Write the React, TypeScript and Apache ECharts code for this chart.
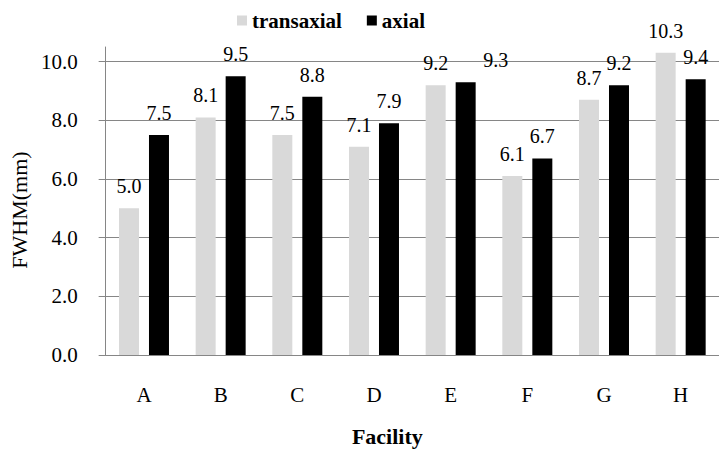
import React, { useEffect, useRef } from "react";
import * as echarts from "echarts";

const categories = ["A", "B", "C", "D", "E", "F", "G", "H"];
const transaxial = [5.0, 8.1, 7.5, 7.1, 9.2, 6.1, 8.7, 10.3];
const axial = [7.5, 9.5, 8.8, 7.9, 9.3, 6.7, 9.2, 9.4];
const yTicks = [0, 2, 4, 6, 8, 10];

const FONT = "Liberation Serif";

export default function App() {
  const ref = useRef<HTMLDivElement>(null);
  useEffect(() => {
    if (!ref.current) return;
    const chart = echarts.init(ref.current, null, { renderer: "svg" });
    const labelStyle = {
      show: true,
      position: "top" as const,
      distance: 12,
      fontFamily: FONT,
      fontSize: 20,
      color: "#000",
      formatter: (p: any) => Number(p.value).toFixed(1),
    };
    chart.setOption({
      animation: false,
      textStyle: { fontFamily: FONT, color: "#000" },
      legend: {
        left: 232,
        top: 5,
        itemWidth: 10,
        itemHeight: 10,
        itemGap: 25,
        icon: "rect",
        textStyle: { fontFamily: FONT, fontSize: 21, fontWeight: "bold", color: "#000" },
        data: ["transaxial", "axial"],
      },
      grid: { left: 99, top: 47, width: 623, height: 313.5, containLabel: false },
      xAxis: {
        type: "category",
        data: categories,
        name: "Facility",
        nameLocation: "middle",
        nameGap: 70,
        nameTextStyle: {
          fontFamily: FONT,
          fontSize: 22,
          fontWeight: "bold",
          color: "#000",
          padding: [0, 50, 0, 0],
        },
        axisLine: { show: true, lineStyle: { color: "#868686", width: 1 } },
        axisTick: { show: false },
        axisLabel: { margin: 29, fontFamily: FONT, fontSize: 21, color: "#000" },
      },
      yAxis: {
        type: "value",
        min: 0,
        max: 10.5,
        interval: 2,
        name: "FWHM(mm)",
        nameLocation: "middle",
        nameGap: 66,
        nameRotate: 90,
        nameTextStyle: {
          fontFamily: FONT,
          fontSize: 22,
          color: "#000",
          padding: [0, 18, 0, 0],
        },
        axisLine: { show: true, lineStyle: { color: "#868686", width: 1 } },
        axisTick: {
          show: true,
          length: 7,
          customValues: yTicks,
          lineStyle: { color: "#868686" },
        },
        axisLabel: {
          margin: 28,
          fontFamily: FONT,
          fontSize: 21,
          color: "#000",
          customValues: yTicks,
          formatter: (v: number) => v.toFixed(1),
        },
        splitLine: {
          show: true,
          lineStyle: { color: "#868686", width: 1 },
        },
      },
      series: [
        {
          name: "transaxial",
          type: "bar",
          barWidth: 20,
          barGap: "50%",
          itemStyle: { color: "#d9d9d9" },
          label: labelStyle,
          data: transaxial,
        },
        {
          name: "axial",
          type: "bar",
          barWidth: 20,
          barGap: "50%",
          itemStyle: { color: "#000000" },
          label: labelStyle,
          data: axial.map((v, i) =>
            categories[i] === "E" ? { value: v, label: { offset: [30, 0] } } : v
          ),
        },
      ],
    });
    return () => chart.dispose();
  }, []);
  return (
    <div
      ref={ref}
      style={{ position: "fixed", left: 0, top: 0, width: 719, height: 452, background: "#fff" }}
    />
  );
}
